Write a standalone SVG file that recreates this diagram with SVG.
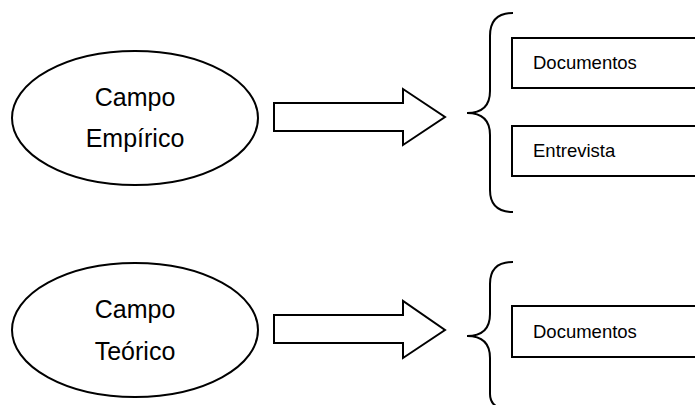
<svg xmlns="http://www.w3.org/2000/svg" width="695" height="405" viewBox="0 0 695 405">
<style>
.sh{fill:#fff;stroke:#000;stroke-width:2}
.br{fill:none;stroke:#000;stroke-width:2}
.big{font-family:"Liberation Sans",Arial,sans-serif;font-size:25px;fill:#000;text-anchor:middle}
.sm{font-family:"Liberation Sans",Arial,sans-serif;font-size:18.5px;fill:#000}
</style>
<rect width="695" height="405" fill="#fff"/>
<g id="campo-empirico">
<ellipse class="sh" cx="135" cy="118" rx="123" ry="67"/>
<text class="big" x="135" y="106">Campo</text>
<text class="big" x="135" y="147">Empírico</text>
</g>
<g id="campo-teorico">
<ellipse class="sh" cx="135" cy="330" rx="123" ry="67"/>
<text class="big" x="135" y="318">Campo</text>
<text class="big" x="135" y="360">Teórico</text>
</g>
<g id="connectors">
<path class="sh" d="M274,103 L403,103 L403,89 L445,117 L403,145 L403,131 L274,131 Z"/>
<path class="sh" d="M274,315 L403,315 L403,301 L445,330 L403,358 L403,343 L274,343 Z"/>
<path class="br" d="M513,13 Q490,13 490,36 L490,91 Q490,113 467,113 Q490,113 490,135 L490,190 Q490,212 513,212"/>
<path class="br" d="M513,262 Q490,262 490,284 L490,314 Q490,336 467,336 Q490,336 490,358 L490,394 Q490,410 513,410"/>
</g>
<g id="documentos-1">
<rect class="sh" x="512" y="38" width="200" height="50"/>
<text class="sm" x="533" y="69">Documentos</text>
</g>
<g id="entrevista">
<rect class="sh" x="512" y="126" width="200" height="50"/>
<text class="sm" x="533" y="157">Entrevista</text>
</g>
<g id="documentos-2">
<rect class="sh" x="512" y="306" width="200" height="51"/>
<text class="sm" x="533" y="338">Documentos</text>
</g>
</svg>
